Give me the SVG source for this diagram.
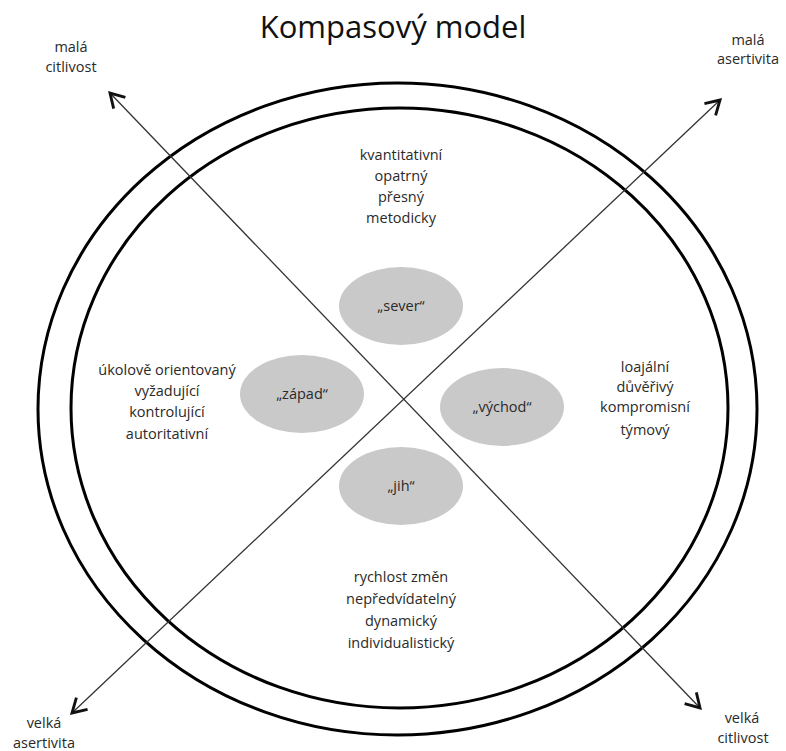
<svg xmlns="http://www.w3.org/2000/svg" width="786" height="751" viewBox="0 0 786 751">
<defs>
<style>
text{font-family:"Open Sans","Liberation Sans",sans-serif;fill:#2a2a2a;text-anchor:middle}
.t{font-size:14.5px}
.title{font-size:31px;fill:#111}
.ring{fill:none;stroke:#000;stroke-width:3}
.ax{stroke:#333;stroke-width:1.3;fill:none}
.node ellipse{fill:#c9c9c9}
</style>
<marker id="arr" markerUnits="userSpaceOnUse" markerWidth="20" markerHeight="20" viewBox="-13 -8 15 16" refX="0" refY="0" orient="auto-start-reverse">
<path d="M-11,-6.5 L0,0 L-11,6.5" fill="none" stroke="#111" stroke-width="2.3" stroke-linejoin="miter"/>
</marker>
</defs>
<rect width="786" height="751" fill="#fff"/>
<text class="title" x="393" y="38">Kompasový model</text>
<g id="rings">
<ellipse class="ring" cx="397.5" cy="409" rx="359.5" ry="326"/>
<ellipse class="ring" cx="399.5" cy="408" rx="328.5" ry="300"/>
</g>
<g id="connectors">
<line class="ax" x1="110" y1="93" x2="700" y2="708" marker-start="url(#arr)" marker-end="url(#arr)"/>
<line class="ax" x1="72" y1="713" x2="720" y2="100" marker-start="url(#arr)" marker-end="url(#arr)"/>
</g>
<g id="node-sever" class="node"><ellipse cx="401" cy="306" rx="62" ry="39"/><text class="t" x="401" y="311">„sever“</text></g>
<g id="node-zapad" class="node"><ellipse cx="302" cy="394" rx="62" ry="39"/><text class="t" x="302" y="399">„západ“</text></g>
<g id="node-vychod" class="node"><ellipse cx="502" cy="407" rx="62" ry="39"/><text class="t" x="502" y="412">„východ“</text></g>
<g id="node-jih" class="node"><ellipse cx="401" cy="486" rx="62" ry="39"/><text class="t" x="401" y="491">„jih“</text></g>
<g id="label-north">
<text class="t" x="401" y="160">kvantitativní</text>
<text class="t" x="401" y="181">opatrný</text>
<text class="t" x="401" y="202">přesný</text>
<text class="t" x="401" y="223">metodicky</text>
</g>
<g id="label-west">
<text class="t" x="167" y="375">úkolově orientovaný</text>
<text class="t" x="167" y="396">vyžadující</text>
<text class="t" x="167" y="417">kontrolující</text>
<text class="t" x="167" y="439">autoritativní</text>
</g>
<g id="label-east">
<text class="t" x="645" y="372">loajální</text>
<text class="t" x="645" y="392">důvěřivý</text>
<text class="t" x="645" y="412">kompromisní</text>
<text class="t" x="645" y="435">týmový</text>
</g>
<g id="label-south">
<text class="t" x="401" y="582">rychlost změn</text>
<text class="t" x="401" y="604">nepředvídatelný</text>
<text class="t" x="401" y="626">dynamický</text>
<text class="t" x="401" y="648">individualistický</text>
</g>
<g id="axis-labels">
<text class="t" x="71" y="52">malá</text>
<text class="t" x="71" y="72">citlivost</text>
<text class="t" x="748" y="45">malá</text>
<text class="t" x="748" y="64">asertivita</text>
<text class="t" x="44" y="728">velká</text>
<text class="t" x="44" y="748">asertivita</text>
<text class="t" x="742" y="723">velká</text>
<text class="t" x="743" y="743">citlivost</text>
</g>
</svg>
